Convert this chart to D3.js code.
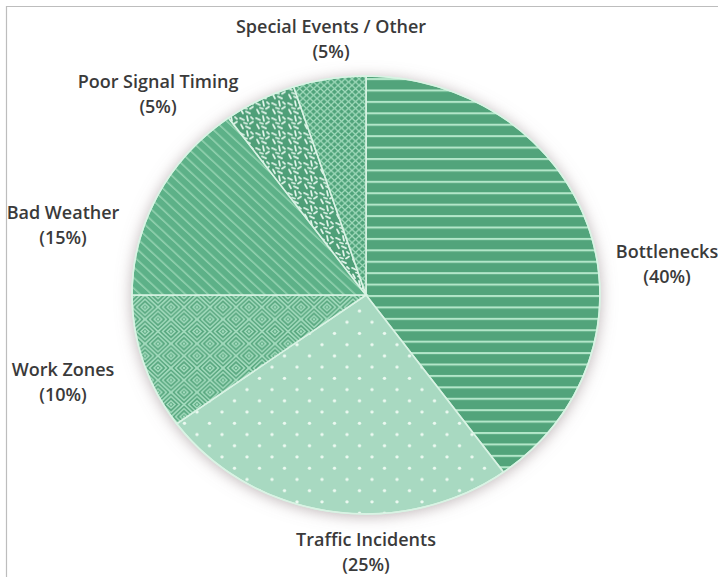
<!DOCTYPE html>
<html><head><meta charset="utf-8">
<script src="https://cdn.jsdelivr.net/npm/d3@7"></script>
<style>body{margin:0;background:#fff;}svg{display:block;}</style>
</head><body>
<script>
const categories = ["Bottlenecks","Traffic Incidents","Work Zones","Bad Weather","Poor Signal Timing","Special Events / Other"];
const values = [40, 25, 10, 15, 5, 5];
const percentLabels = ["(40%)","(25%)","(10%)","(15%)","(5%)","(5%)"];

// layout (not data)
const labelPos = {
  "Bottlenecks": [667, 252],
  "Traffic Incidents": [366, 540],
  "Work Zones": [63, 370],
  "Bad Weather": [63, 213],
  "Poor Signal Timing": [158, 82],
  "Special Events / Other": [331, 27]
};
const W = 718, H = 577;
const cx = 366, cy = 295, rx = 234, ry = 219;

const svg = d3.select("body").append("svg").attr("width", W).attr("height", H);
const defs = svg.append("defs");

// frame lines
svg.append("line").attr("x1",6).attr("y1",6.5).attr("x2",W).attr("y2",6.5).attr("stroke","#bdbdbd").attr("stroke-width",1.2);
svg.append("line").attr("x1",6.5).attr("y1",6).attr("x2",6.5).attr("y2",H).attr("stroke","#bdbdbd").attr("stroke-width",1.2);

// shadow
const f = defs.append("filter").attr("id","sh").attr("x","-20%").attr("y","-20%").attr("width","140%").attr("height","140%");
f.append("feDropShadow").attr("dx",0).attr("dy",2).attr("stdDeviation",8).attr("flood-color","#8d7d80").attr("flood-opacity",0.6);

function pat(id, w, h, bg) {
  const p = defs.append("pattern").attr("id", id).attr("patternUnits","userSpaceOnUse").attr("width", w).attr("height", h);
  p.append("rect").attr("width", w).attr("height", h).attr("fill", bg);
  return p;
}
// Bottlenecks: horizontal stripes
let p = pat("pBott", 12, 12.2, "#52a47b");
p.append("rect").attr("x",0).attr("y",0).attr("width",12).attr("height",2.2).attr("fill","#b3e6c9");

// Traffic incidents: dots
p = pat("pTraf", 25, 24, "#a8d9c1");
[[6,5],[18.5,17]].forEach(([x,y]) => p.append("circle").attr("cx",x).attr("cy",y).attr("r",1.7).attr("fill","#ecf9f1"));

// Work zones: nested diamonds
p = pat("pWork", 26, 26, "#59a880");
const dcol = "#a3dbbd";
[[13,13],[0,0],[26,0],[0,26],[26,26]].forEach(([x,y]) => {
  [13, 8.5, 4].forEach(r => {
    p.append("path").attr("d", `M${x},${y-r}L${x+r},${y}L${x},${y+r}L${x-r},${y}Z`)
      .attr("fill","none").attr("stroke",dcol).attr("stroke-width",1.5);
  });
  p.append("circle").attr("cx",x).attr("cy",y).attr("r",1.3).attr("fill",dcol);
});

// Bad weather: diagonal stripes (upper-left to lower-right)
p = pat("pWeat", 8, 8, "#5db188");
p.attr("patternTransform","rotate(-45)");
p.append("rect").attr("x",0).attr("y",0).attr("width",1.6).attr("height",8).attr("fill","#93d2b0");

// Poor signal timing: squiggles
p = pat("pSig", 16, 16, "#4f9f78");
[["M2,3 L6,5"],["M9,1 L10,6"],["M12,9 L15,7"],["M3,10 L5,14"],["M8,12 L12,14"],["M13,2 L15,4"],["M6,8 L9,9"]].forEach(d =>
  p.append("path").attr("d", d[0]).attr("stroke","#e2f5ea").attr("stroke-width",1.8).attr("stroke-linecap","round").attr("fill","none"));

// Special events: crosshatch
p = pat("pSpec", 7, 7, "#4fa37a");
p.append("path").attr("d","M0,0L7,7M7,0L0,7").attr("stroke","#9fd9ba").attr("stroke-width",1.3);

const fills = ["url(#pBott)","url(#pTraf)","url(#pWork)","url(#pWeat)","url(#pSig)","url(#pSpec)"];

const pie = d3.pie().sort(null).value(d => d);
const arcs = pie(values);
const arc = d3.arc().innerRadius(0).outerRadius(rx);

const g = svg.append("g").attr("transform", `translate(${cx},${cy}) scale(1,${ry/rx})`);
g.append("circle").attr("r", rx).attr("fill","#6ab58f").attr("filter","url(#sh)");
g.selectAll("path.slice").data(arcs).join("path").attr("class","slice")
  .attr("d", arc).attr("fill", (d,i) => fills[i])
  .attr("stroke","#d9f3e4").attr("stroke-width",1.6).attr("vector-effect","non-scaling-stroke");
g.append("circle").attr("r", rx).attr("fill","none").attr("stroke","#d9f3e4").attr("stroke-width",1.6).attr("vector-effect","non-scaling-stroke");

// labels
const lg = svg.append("g").attr("font-family","'Open Sans', Lato, sans-serif").attr("font-size",18).attr("font-weight",600).attr("fill","#3a3a3a").attr("text-anchor","middle");
categories.forEach((c, i) => {
  const [x, y] = labelPos[c];
  lg.append("text").attr("x", x).attr("y", y).attr("dy","0.35em").text(c);
  lg.append("text").attr("x", x).attr("y", y + 25).attr("dy","0.35em").text(percentLabels[i]);
});
</script>
</body></html>
